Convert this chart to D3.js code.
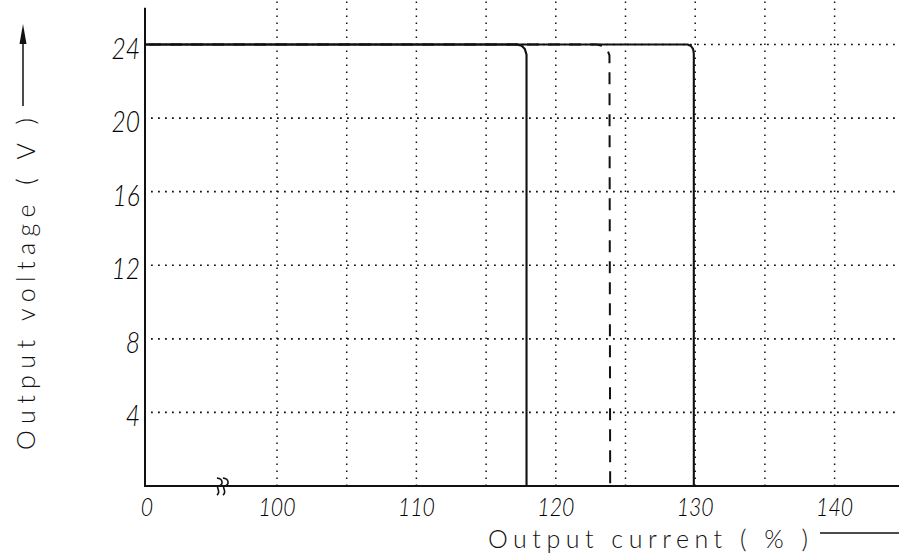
<!DOCTYPE html>
<html>
<head>
<meta charset="utf-8">
<script src="https://cdn.jsdelivr.net/npm/d3@7"></script>
<style>
    html, body { margin: 0; padding: 0; background: #fff; }
    svg { display: block; }
    .tick-label { font-family: Lato, "Open Sans", sans-serif; font-weight: 300; font-style: italic; fill: #000; }
    .axis-title { font-family: Lato, "Open Sans", sans-serif; font-weight: 300; font-size: 25px; fill: #111; }
</style>
</head>
<body>
<div class="chart-holder"></div>
<script>
(function () {

    'use strict';

    // tick values
    var voltageTicks = [4, 8, 12, 16, 20, 24];
    var currentTicks = [0, 100, 110, 120, 130, 140];
    var currentGrid = [100, 105, 110, 115, 120, 125, 130, 135, 140];

    // characteristic 1 (solid, drops at ~118 %)
    var lowCurrent = [0, 117.2, 117.55, 117.78, 117.9, 117.9];
    var lowVoltage = [24, 24, 23.93, 23.75, 23.45, 0];

    // characteristic 2 (dashed, drops at ~124 %)
    var midCurrent = [0, 122.95, 123.4, 123.7, 123.85, 123.9];
    var midVoltage = [24, 24, 23.92, 23.72, 23.4, 0];

    // characteristic 3 (solid, drops at ~130 %)
    var highCurrent = [0, 129.45, 129.7, 129.85, 129.9, 129.9];
    var highVoltage = [24, 24, 23.92, 23.75, 23.5, 0];

    var width = 899;
    var height = 558;

    var svg = d3.select('.chart-holder')
        .append('svg')
        .attr('width', width)
        .attr('height', height);

    // broken axis: 0 .. 100 squeezed, 100 .. 140 linear
    var x = d3.scaleLinear()
        .domain([0, 100, 140])
        .range([145, 277, 834.6]);

    var y = d3.scaleLinear()
        .domain([0, 24])
        .range([486, 44.5]);

    var ink = '#111';

    var toPoints = function (xs, ys) {
        return xs.map(function (v, i) {
            return [v, ys[i]];
        });
    };

    var line = d3.line()
        .x(function (d) { return x(d[0]); })
        .y(function (d) { return y(d[1]); });

    // dotted grid
    var grid = svg.append('g');

    grid.selectAll('.h-grid')
        .data(voltageTicks)
        .enter()
        .append('line')
        .attr('x1', x(0) + 6)
        .attr('x2', width)
        .attr('y1', function (d) { return y(d); })
        .attr('y2', function (d) { return y(d); })
        .attr('stroke', ink)
        .attr('stroke-width', 1.6)
        .attr('stroke-dasharray', '1.8,5.2');

    grid.selectAll('.v-grid')
        .data(currentGrid)
        .enter()
        .append('line')
        .attr('x1', function (d) { return x(d); })
        .attr('x2', function (d) { return x(d); })
        .attr('y1', y(0))
        .attr('y2', y(26.8))
        .attr('stroke', ink)
        .attr('stroke-width', 1.5)
        .attr('stroke-dasharray', '1.6,5.4');

    // axes
    svg.append('line')
        .attr('x1', x(0))
        .attr('x2', x(0))
        .attr('y1', y(0) + 1)
        .attr('y2', y(26))
        .attr('stroke', ink)
        .attr('stroke-width', 2);

    svg.append('line')
        .attr('x1', x(0))
        .attr('x2', width)
        .attr('y1', y(0))
        .attr('y2', y(0))
        .attr('stroke', ink)
        .attr('stroke-width', 2.2);

    // axis break mark
    var breakAt = x(56);
    [0, 6].forEach(function (off) {
        var bx = breakAt + off;
        var by = y(0);
        svg.append('path')
            .attr('d', 'M' + (bx - 2) + ',' + (by - 8) +
                ' C' + (bx + 5) + ',' + (by - 7) + ' ' + (bx + 4) + ',' + (by - 1) + ' ' + bx + ',' + by +
                ' C' + (bx - 4) + ',' + (by + 1) + ' ' + (bx + 3) + ',' + (by + 6) + ' ' + (bx - 2) + ',' + (by + 9))
            .attr('fill', 'none')
            .attr('stroke', ink)
            .attr('stroke-width', 1.6);
    });

    // curves
    svg.append('path')
        .datum(toPoints(midCurrent, midVoltage))
        .attr('d', line)
        .attr('fill', 'none')
        .attr('stroke', ink)
        .attr('stroke-width', 2)
        .attr('stroke-dasharray', '12,9')
        .attr('stroke-dashoffset', -4);

    [toPoints(lowCurrent, lowVoltage), toPoints(highCurrent, highVoltage)].forEach(function (pts) {
        svg.append('path')
            .datum(pts)
            .attr('d', line)
            .attr('fill', 'none')
            .attr('stroke', ink)
            .attr('stroke-width', 2.1)
            .attr('stroke-linejoin', 'round');
    });

    // y tick labels (squeezed to look like the hand lettering)
    svg.selectAll('.y-label')
        .data(voltageTicks)
        .enter()
        .append('text')
        .attr('class', 'tick-label')
        .attr('transform', function (d) {
            return 'translate(' + (x(0) - 5) + ',' + (y(d) + 14) + ') scale(0.82,1)';
        })
        .attr('text-anchor', 'end')
        .style('font-size', '30px')
        .text(function (d) { return d; });

    // x tick labels
    svg.selectAll('.x-label')
        .data(currentTicks)
        .enter()
        .append('text')
        .attr('class', 'tick-label')
        .attr('transform', function (d) {
            return 'translate(' + (x(d) + (d === 0 ? 2 : 0)) + ',516) scale(0.85,1)';
        })
        .attr('text-anchor', 'middle')
        .style('font-size', '25px')
        .text(function (d) { return d; });

    // axis titles
    svg.append('text')
        .attr('class', 'axis-title')
        .attr('x', 488)
        .attr('y', 548)
        .attr('textLength', 320)
        .attr('lengthAdjust', 'spacing')
        .text('Output current ( % )');

    svg.append('line')
        .attr('x1', 820)
        .attr('x2', width)
        .attr('y1', 533)
        .attr('y2', 533)
        .attr('stroke', ink)
        .attr('stroke-width', 1.6);

    svg.append('text')
        .attr('class', 'axis-title')
        .attr('transform', 'translate(35,450) rotate(-90)')
        .attr('x', 0)
        .attr('y', 0)
        .attr('textLength', 332)
        .attr('lengthAdjust', 'spacing')
        .text('Output voltage ( V )');

    // y title arrow
    svg.append('line')
        .attr('x1', 23)
        .attr('x2', 23)
        .attr('y1', 106)
        .attr('y2', 36)
        .attr('stroke', ink)
        .attr('stroke-width', 1.5);

    svg.append('path')
        .attr('d', 'M23,24 L19.5,44 L26.5,44 Z')
        .attr('fill', ink);

}());
</script>
</body>
</html>
